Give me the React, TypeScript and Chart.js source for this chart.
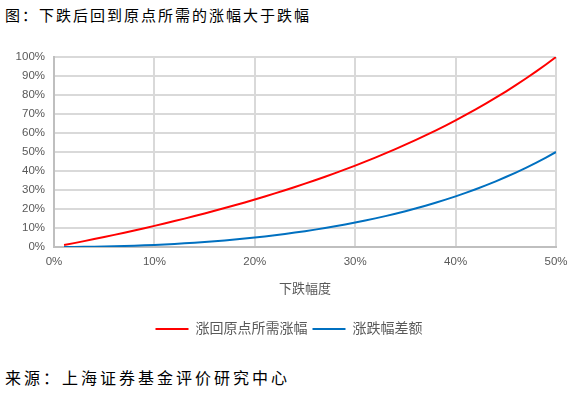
import React, { useEffect, useRef } from "react";
import { Chart, registerables } from "chart.js";

Chart.register(...registerables);

const drops = [
  0.01, 0.02, 0.03, 0.04, 0.05, 0.06, 0.07, 0.08, 0.09, 0.1,
  0.11, 0.12, 0.13, 0.14, 0.15, 0.16, 0.17, 0.18, 0.19, 0.2,
  0.21, 0.22, 0.23, 0.24, 0.25, 0.26, 0.27, 0.28, 0.29, 0.3,
  0.31, 0.32, 0.33, 0.34, 0.35, 0.36, 0.37, 0.38, 0.39, 0.4,
  0.41, 0.42, 0.43, 0.44, 0.45, 0.46, 0.47, 0.48, 0.49, 0.5,
];

const recoveryNeeded = [
  0.0101, 0.0204, 0.0309, 0.0417, 0.0526, 0.0638, 0.0753, 0.087, 0.0989, 0.1111,
  0.1236, 0.1364, 0.1494, 0.1628, 0.1765, 0.1905, 0.2048, 0.2195, 0.2346, 0.25,
  0.2658, 0.2821, 0.2987, 0.3158, 0.3333, 0.3514, 0.3699, 0.3889, 0.4085, 0.4286,
  0.4493, 0.4706, 0.4925, 0.5152, 0.5385, 0.5625, 0.5873, 0.6129, 0.6393, 0.6667,
  0.6949, 0.7241, 0.7544, 0.7857, 0.8182, 0.8519, 0.8868, 0.9231, 0.9608, 1.0,
];

const gapValues = [
  0.0001, 0.0004, 0.0009, 0.0017, 0.0026, 0.0038, 0.0053, 0.007, 0.0089, 0.0111,
  0.0136, 0.0164, 0.0194, 0.0228, 0.0265, 0.0305, 0.0348, 0.0395, 0.0446, 0.05,
  0.0558, 0.0621, 0.0687, 0.0758, 0.0833, 0.0914, 0.0999, 0.1089, 0.1185, 0.1286,
  0.1393, 0.1506, 0.1625, 0.1752, 0.1885, 0.2025, 0.2173, 0.2329, 0.2493, 0.2667,
  0.2849, 0.3041, 0.3244, 0.3457, 0.3682, 0.3919, 0.4168, 0.4431, 0.4708, 0.5,
];

const seriesNames = ["涨回原点所需涨幅", "涨跌幅差额"];
const xAxisTitle = "下跌幅度";
const chartTitle = "图：下跌后回到原点所需的涨幅大于跌幅";
const sourceText = "来源：上海证券基金评价研究中心";

const FONT = "'Liberation Sans', 'Noto Sans CJK SC', sans-serif";

export default function App() {
  const canvasRef = useRef<HTMLCanvasElement | null>(null);

  useEffect(() => {
    const canvas = canvasRef.current;
    if (!canvas) return;
    const chart = new Chart(canvas, {
      type: "line",
      data: {
        datasets: [
          {
            label: seriesNames[0],
            data: drops.map((x, i) => ({ x, y: recoveryNeeded[i] })),
            borderColor: "#ff0000",
            backgroundColor: "#ff0000",
            borderWidth: 2,
            pointRadius: 0,
            tension: 0,
          },
          {
            label: seriesNames[1],
            data: drops.map((x, i) => ({ x, y: gapValues[i] })),
            borderColor: "#0070c0",
            backgroundColor: "#0070c0",
            borderWidth: 2,
            pointRadius: 0,
            tension: 0,
          },
        ],
      },
      options: {
        animation: false,
        responsive: false,
        maintainAspectRatio: false,
        layout: { padding: { top: 17, right: 5, left: 0, bottom: 0 } },
        plugins: {
          tooltip: { enabled: false },
          legend: {
            position: "bottom",
            labels: {
              boxWidth: 33,
              boxHeight: 2,
              padding: 5,
              color: "#595959",
              font: { family: FONT, size: 14 },
              generateLabels: (c: any) =>
                Chart.defaults.plugins.legend.labels
                  .generateLabels(c)
                  .map((l: any) => ({ ...l, lineWidth: 0 })),
            },
          },
        },
        scales: {
          x: {
            type: "linear",
            min: 0,
            max: 0.5,
            ticks: {
              stepSize: 0.1,
              color: "#595959",
              padding: 8,
              font: { family: FONT, size: 11.5 },
              callback: (v: any) => Math.round(Number(v) * 100) + "%",
            },
            grid: { color: "#d9d9d9", lineWidth: 2, drawTicks: false },
            border: { color: "#bfbfbf", width: 2 },
            title: {
              display: true,
              text: xAxisTitle,
              color: "#595959",
              font: { family: FONT, size: 13 },
              padding: { top: 0, bottom: 20 },
            },
            afterFit: (s: any) => {
              s.height = 70;
            },
          },
          y: {
            min: 0,
            max: 1,
            ticks: {
              stepSize: 0.1,
              color: "#595959",
              padding: 9,
              font: { family: FONT, size: 11.5 },
              callback: (v: any) => Math.round(Number(v) * 100) + "%",
            },
            grid: { color: "#d9d9d9", lineWidth: 2, drawTicks: false },
            border: { color: "#bfbfbf", width: 2 },
            afterFit: (s: any) => {
              s.width = 54;
            },
          },
          y2: {
            position: "right",
            display: true,
            grid: { display: false, drawTicks: false },
            border: { display: false },
            ticks: { display: false },
            afterFit: (s: any) => {
              s.width = 22;
            },
          },
        },
      },
    } as any);
    return () => chart.destroy();
  }, []);

  return (
    <div style={{ position: "absolute", left: 0, top: 0, width: 583, height: 394, background: "#fff" }}>
      <div
        style={{
          position: "absolute",
          left: 5,
          top: 5,
          fontFamily: "'Noto Sans CJK SC', sans-serif",
          fontSize: 15,
          lineHeight: "20px",
          letterSpacing: 2,
          color: "#000",
          whiteSpace: "nowrap",
        }}
      >
        {chartTitle}
      </div>
      <canvas
        ref={canvasRef}
        width={583}
        height={306}
        style={{ position: "absolute", left: 0, top: 40, width: 583, height: 306 }}
      />
      <div
        style={{
          position: "absolute",
          left: 5,
          top: 367,
          fontFamily: "'Noto Sans CJK SC', sans-serif",
          fontSize: 16,
          lineHeight: "20px",
          letterSpacing: 3,
          color: "#000",
          whiteSpace: "nowrap",
        }}
      >
        {sourceText}
      </div>
    </div>
  );
}
